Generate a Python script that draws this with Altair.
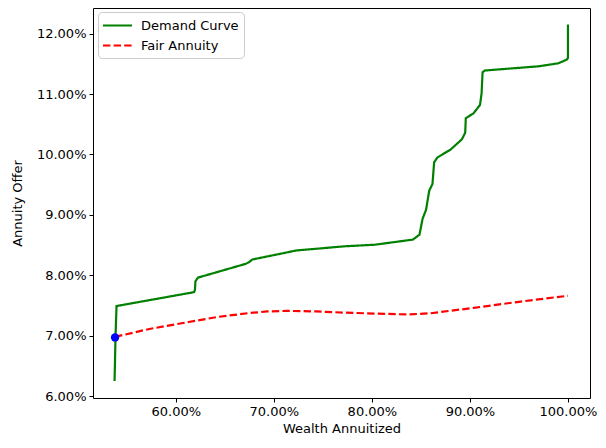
import altair as alt
import pandas as pd

# Demand curve (wealth annuitized, annuity offer)
demand_x = [0.5375, 0.5385, 0.5395, 0.543, 0.6187, 0.6195, 0.6200, 0.6225, 0.6715, 0.675,
            0.678, 0.723, 0.773, 0.803, 0.8418, 0.8485, 0.8518, 0.8552, 0.8585, 0.8618,
            0.8635, 0.8668, 0.8802, 0.8918, 0.8952, 0.8958, 0.9036, 0.9103, 0.9119, 0.9129,
            0.9153, 0.9704, 0.9904, 0.9988, 1.0, 1.0]
demand_y = [0.0625, 0.0700, 0.0749, 0.0750, 0.0772, 0.0776, 0.0790, 0.0796, 0.0819, 0.0822,
            0.0826, 0.0841, 0.0848, 0.08505, 0.0859, 0.0867, 0.0894, 0.0908, 0.0940, 0.0951,
            0.0987, 0.0995, 0.1008, 0.1025, 0.1036, 0.1060, 0.1068, 0.1082, 0.1101, 0.1136,
            0.1139, 0.1146, 0.1151, 0.1157, 0.1160, 0.1215]

# Fair annuity
fair_x = [0.538, 0.573, 0.613, 0.643, 0.673, 0.693, 0.713, 0.743, 0.773, 0.803, 0.837,
          0.86, 0.904, 0.95, 1.0]
fair_y = [0.0698, 0.0711, 0.07225, 0.0731, 0.0737, 0.0740, 0.0741, 0.0740, 0.0738, 0.07365,
          0.0735, 0.0737, 0.0746, 0.0756, 0.0766]

point_x = [0.538]
point_y = [0.0697]

series_names = ["Demand Curve", "Fair Annuity"]
x_ticks = [0.6, 0.7, 0.8, 0.9, 1.0]
y_ticks = [0.06, 0.07, 0.08, 0.09, 0.10, 0.11, 0.12]

rows = []
for i, (x, y) in enumerate(zip(demand_x, demand_y)):
    rows.append({"x": x, "y": y, "series": series_names[0], "i": i})
for i, (x, y) in enumerate(zip(fair_x, fair_y)):
    rows.append({"x": x, "y": y, "series": series_names[1], "i": i})
df = pd.DataFrame(rows)
pt = pd.DataFrame({"x": point_x, "y": point_y})

xscale = alt.Scale(domain=[0.5155, 1.0225], nice=False, zero=False)
yscale = alt.Scale(domain=[0.05967, 0.12425], nice=False, zero=False)

xenc = alt.X("x:Q", scale=xscale,
             axis=alt.Axis(values=x_ticks, format=".2%", title="Wealth Annuitized"))
yenc = alt.Y("y:Q", scale=yscale,
             axis=alt.Axis(values=y_ticks, format=".2%", title="Annuity Offer"))

leg = alt.Legend(title=None, orient="none", legendX=5, legendY=4)

lines = alt.Chart(df).mark_line(strokeWidth=2.2).encode(
    x=xenc,
    y=yenc,
    order="i:Q",
    color=alt.Color("series:N",
                    scale=alt.Scale(domain=series_names, range=["#008000", "#ff0000"]),
                    legend=leg),
    strokeDash=alt.StrokeDash("series:N",
                              scale=alt.Scale(domain=series_names, range=[[1, 0], [7.4, 3.2]]),
                              legend=leg),
)

dot = alt.Chart(pt).mark_circle(size=70, color="#0000ff", opacity=1).encode(x="x:Q", y="y:Q")

chart = (lines + dot).properties(
    width=497, height=390,
    autosize=alt.AutoSizeParams(type="none"),
    padding={"left": 85, "top": 0, "right": 8, "bottom": 38},
).configure_view(
    stroke="black", strokeWidth=1
).configure_axis(
    grid=False, domain=False,
    tickColor="black", tickSize=4,
    labelFont="DejaVu Sans", labelFontSize=13, labelColor="black", labelPadding=3,
    titleFont="DejaVu Sans", titleFontSize=13, titleColor="black", titleFontWeight="normal",
).configure_axisX(titlePadding=4).configure_axisY(titlePadding=12).configure_legend(
    fillColor="white", strokeColor="#cccccc", cornerRadius=4, padding=5,
    labelFont="DejaVu Sans", labelFontSize=13, labelColor="black",
    symbolOffset=6, labelOffset=15,
    symbolType="M-2,0H2", symbolSize=210, symbolStrokeWidth=2.2, rowPadding=4,
)

chart.save("out.html", embed_options={"renderer": "svg", "actions": False})
